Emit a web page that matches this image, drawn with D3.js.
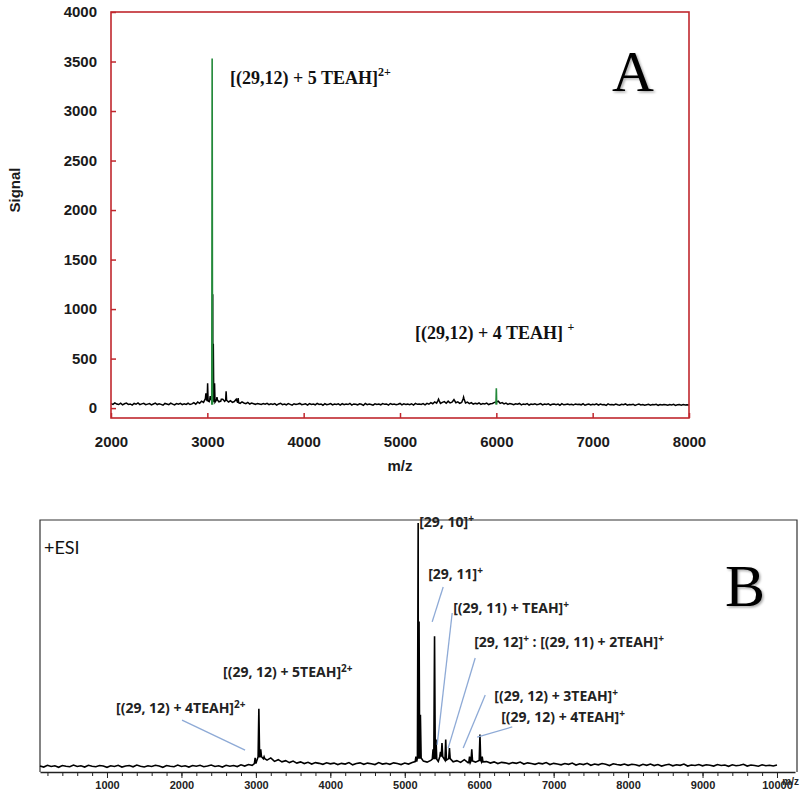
<!DOCTYPE html>
<html><head><meta charset="utf-8">
<script src="https://cdn.jsdelivr.net/npm/d3@7"></script>
<style>
html,body{margin:0;padding:0;background:#fff;}
svg{display:block;}
</style></head><body>
<svg id="chart" width="800" height="796"></svg>
<script>
// ---------------- Panel A data ----------------
const startA = 2000, stepA = 20;
const noiseA = [
45,38,52,41,36,49,33,44,50,37,42,31,47,39,53,35,43,48,34,40,
46,32,41,50,36,44,38,29,47,42,35,51,40,33,45,39,48,34,43,37,
49,36,42,55,40,61,48,70,58,95,72,66,88,75,60,82,64,71,90,68,
80,62,74,58,66,90,55,48,63,52,45,57,41,50,44,38,47,42,36,45,
39,48,34,43,37,46,31,42,49,35,40,33,45,38,30,44,36,41,47,34,
38,43,31,46,36,40,33,48,37,42,29,44,35,39,46,32,41,37,43,30,
45,34,40,36,47,31,42,38,33,44,39,28,46,35,41,37,30,43,36,40,
33,45,38,42,30,46,36,41,34,39,47,32,43,37,40,35,44,31,48,38,
42,36,45,33,48,39,55,44,62,50,78,47,58,66,49,70,52,60,85,54,
63,48,57,92,51,60,45,55,40,49,43,52,38,46,41,50,36,44,47,58,
62,70,48,55,42,50,38,46,41,35,44,39,47,33,42,37,45,31,40,36,
43,34,39,46,32,41,36,44,30,38,42,35,40,29,45,33,37,41,34,39,
31,42,36,39,33,44,29,37,41,32,38,35,43,30,40,34,36,28,42,33,
37,31,40,34,29,38,35,42,30,36,33,39,27,35,41,32,37,29,34,38,
30,36,33,39,28,35,31,37,34,29,36,32,38,27,33,35,30,36,31,34,
32];
const peaksA_mz = [2985, 3003, 3030, 3056, 3062, 3075, 3100, 3150, 3195, 3320, 5400, 5660];
const peaksA_h  = [150,  250,  120,  1150, 650,  250,  110,  90,   170,  100,  90,   110];
const greenA_mz = [3050, 6000];
const greenA_h  = [3530, 200];
const ticksAx = [2000, 3000, 4000, 5000, 6000, 7000, 8000];
const ticksAy = [0, 500, 1000, 1500, 2000, 2500, 3000, 3500, 4000];
const annA_text = ["[(29,12) + 5 TEAH]", "[(29,12) + 4 TEAH] "];
const annA_sup  = ["2+", "+"];
const annA_mz   = [3235, 5156];
const annA_sig  = [3270, 699];

// ---------------- Panel B data ----------------
const startB = 100, stepB = 50;
const noiseB = [
1.2,0.8,1.5,1.0,1.3,0.7,1.4,1.1,0.9,1.6,1.0,1.3,0.8,1.5,1.1,0.9,1.4,1.2,0.7,1.3,
1.0,1.5,0.8,1.2,1.4,0.9,1.6,1.1,0.8,1.3,1.0,1.5,1.2,0.7,1.4,1.1,0.9,1.6,1.0,1.3,
0.8,1.4,1.1,1.5,0.9,1.2,1.6,1.0,1.3,0.8,1.5,1.1,1.4,1.0,1.7,1.2,1.8,1.5,2.2,5.0,
4.2,3.6,4.5,3.1,3.8,2.9,3.4,2.6,3.2,2.4,2.9,2.2,2.7,2.0,2.6,2.3,1.9,2.5,2.1,2.4,
1.8,2.3,2.0,2.6,1.7,2.2,2.5,1.9,2.4,2.1,1.8,2.6,2.0,2.3,1.9,2.5,2.2,1.8,2.4,2.0,
2.6,3.0,4.5,3.2,2.8,3.5,4.0,3.1,5.0,3.6,4.2,2.9,3.4,2.7,3.8,2.6,3.3,2.8,3.5,2.9,
3.0,2.4,2.9,2.2,2.7,2.5,2.1,2.6,2.3,2.8,2.0,2.5,2.2,1.9,2.4,2.1,2.6,1.8,2.3,2.0,
1.7,2.2,1.9,2.4,1.6,2.1,1.8,2.3,1.5,2.0,1.7,2.2,1.9,1.4,2.1,1.8,1.6,2.0,1.5,1.9,
1.7,1.3,1.9,1.5,2.0,1.4,1.8,1.2,1.6,1.9,1.3,1.7,1.5,2.0,1.2,1.6,1.4,1.8,1.3,1.7,
1.5,1.2,1.8,1.4,1.6,1.1,1.7,1.3,1.5,1.9,1.2,1.6,1.4,1.1,1.7,1.3,1.5,1.2,1.6];
const peaksB_mz = [2990, 3040, 3065, 3110, 5150, 5180, 5192, 5210, 5380, 5400, 5420, 5480, 5500, 5550, 5600, 5870, 5900, 6010, 6040];
const peaksB_h  = [4.5,  24.5, 8,    5,    5,    100,  60,   22,   8,    54,   12,   7,    10.6, 12,   8.5,  5,    8,    14,   5];
const ticksBmajor = [1000, 2000, 3000, 4000, 5000, 6000, 7000, 8000, 9000, 10000];
const annB_text = ["[29, 10]", "[29, 11]", "[(29, 11) + TEAH]", "[29, 12]", "[(29, 12) + 3TEAH]", "[(29, 12) + 4TEAH]", "[(29, 12) + 5TEAH]", "[(29, 12) + 4TEAH]"];
const annB_sup  = ["+", "+", "+", "+", "+", "+", "2+", "2+"];
const annB_tail = ["", "", "", " :  [(29, 11) + 2TEAH]", "", "", "", ""];
const annB_tailSup = ["", "", "", "+", "", "", "", ""];
const annB_mz   = [5194, 5315, 5651, 5933, 6202, 6296, 2559, 1121];
const annB_int  = [98.4, 77.2, 63.4, 49.6, 27.6, 19.1, 37.4, 22.8];
// leader lines: from (mz1,int1) to (mz2,int2)
const leadB_mz1  = [5516, 5637, 5946, 6081, 6444, 2008];
const leadB_int1 = [74.0, 63.4, 45.1, 30.1, 17.1, 19.9];
const leadB_mz2  = [5368, 5435, 5583, 5785, 5973, 2855];
const leadB_int2 = [59.8, 9.8,  8.5,  8.5,  13.0, 7.7];

// ---------------- helpers ----------------
function buildTrace(start, step, noise, pmz, ph, halfW){
  let pts = noise.map((v,i)=>[start+i*step, v]);
  pts = pts.filter(p => !pmz.some(m => Math.abs(p[0]-m) <= halfW));
  pmz.forEach((m,i)=>{
    const idx = Math.min(noise.length-1, Math.max(0, Math.round((m-start)/step)));
    const b = noise[idx];
    pts.push([m-halfW,b],[m,ph[i]],[m+halfW,b]);
  });
  return pts.sort((a,b)=>a[0]-b[0]);
}

const svg = d3.select("#chart");
const defs = svg.append("defs");
const f = defs.append("filter").attr("id","shadow").attr("x","-20%").attr("y","-20%").attr("width","150%").attr("height","150%");
f.append("feDropShadow").attr("dx",1.5).attr("dy",1.5).attr("stdDeviation",1.2).attr("flood-color","#000").attr("flood-opacity",0.35);

// ================= PANEL A =================
const RED = "#c0272d";
const xA = d3.scaleLinear().domain([2000,8000]).range([111,689]);
const yA = d3.scaleLinear().domain([-100,4000]).range([418,12]);
const gA = svg.append("g");

const axisFont = "'Liberation Sans', Arial, sans-serif";
const gxA = gA.append("g").attr("transform","translate(0,418)")
  .call(d3.axisBottom(xA).tickValues(ticksAx).tickSizeInner(-5).tickSizeOuter(0).tickPadding(18).tickFormat(d3.format("d")));
gxA.select(".domain").remove();
gxA.selectAll(".tick line").attr("stroke",RED).attr("stroke-width",1.5);
gxA.selectAll(".tick text").attr("font-family",axisFont).attr("font-weight","bold").attr("font-size",15).attr("fill","#1a1a1a");

const gyA = gA.append("g").attr("transform","translate(111,0)")
  .call(d3.axisLeft(yA).tickValues(ticksAy).tickSizeInner(-5).tickSizeOuter(0).tickPadding(14).tickFormat(d3.format("d")));
gyA.select(".domain").remove();
gyA.selectAll(".tick line").attr("stroke",RED).attr("stroke-width",1.5);
gyA.selectAll(".tick text").attr("font-family",axisFont).attr("font-weight","bold").attr("font-size",15).attr("fill","#1a1a1a");

gA.append("text").attr("transform","translate(20,190) rotate(-90)").attr("text-anchor","middle")
  .attr("font-family",axisFont).attr("font-weight","bold").attr("font-size",15).attr("fill","#1a1a1a").text("Signal");
gA.append("text").attr("x",400).attr("y",471).attr("text-anchor","middle")
  .attr("font-family",axisFont).attr("font-weight","bold").attr("font-size",15).attr("fill","#1a1a1a").text("m/z");

const lineA = d3.line().x(d=>xA(d[0])).y(d=>yA(d[1]));
const traceA = buildTrace(startA, stepA, noiseA, peaksA_mz, peaksA_h, 5);
gA.append("path").datum(traceA).attr("d",lineA).attr("fill","none").attr("stroke","#000").attr("stroke-width",1.5);

greenA_mz.forEach((m,i)=>{
  gA.append("path").datum([[m-4,35],[m,greenA_h[i]],[m+4,35]]).attr("d",lineA)
    .attr("fill","none").attr("stroke","#23893a").attr("stroke-width",1.6);
});

gA.append("rect").attr("x",111).attr("y",12).attr("width",578).attr("height",406)
  .attr("fill","none").attr("stroke",RED).attr("stroke-width",1.6);

const serif = "'Liberation Serif','Times New Roman',serif";
annA_text.forEach((t,i)=>{
  const tx = gA.append("text").attr("x",xA(annA_mz[i])).attr("y",yA(annA_sig[i]))
    .attr("font-family",serif).attr("font-weight","bold").attr("font-size",18).attr("fill","#111");
  tx.append("tspan").text(t);
  tx.append("tspan").attr("font-size",12).attr("dy",-8).text(annA_sup[i]);
});
gA.append("text").attr("x",633).attr("y",91).attr("text-anchor","middle")
  .attr("font-family",serif).attr("font-size",58).attr("fill","#000").attr("filter","url(#shadow)").text("A");

// ================= PANEL B =================
const xB = d3.scaleLinear().domain([100,10242]).range([40,795]);
const yB = d3.scaleLinear().domain([0,100]).range([769,523]);
const gB = svg.append("g");

gB.append("path").attr("d","M40,772V520H797V772").attr("fill","none").attr("stroke","#333").attr("stroke-width",1.2);

const sans = "'Open Sans', Lato, Arial, sans-serif";
gB.append("text").attr("x",44).attr("y",554).attr("font-family","Lato, 'Open Sans', sans-serif").attr("font-size",18).attr("fill","#111").text("+ESI");

const lineB = d3.line().x(d=>xB(d[0])).y(d=>yB(d[1]));
const traceB = buildTrace(startB, stepB, noiseB, peaksB_mz, peaksB_h, 10);
gB.append("path").datum(traceB).attr("d",lineB).attr("fill","none").attr("stroke","#000").attr("stroke-width",1.6);

// axis B
const minorB = d3.range(200, 10001, 200);
const gxB = gB.append("g").attr("transform","translate(0,772)");
gxB.call(d3.axisBottom(xB).tickValues(minorB).tickSizeInner(4).tickSizeOuter(0).tickFormat(""));
gxB.select(".domain").attr("stroke","#222").attr("stroke-width",1.3);
gxB.selectAll(".tick line").attr("stroke","#222");
const gxB2 = gB.append("g").attr("transform","translate(0,772)");
gxB2.call(d3.axisBottom(xB).tickValues(ticksBmajor).tickSizeInner(6).tickSizeOuter(0).tickPadding(3).tickFormat(d3.format("d")));
gxB2.select(".domain").remove();
gxB2.selectAll(".tick line").attr("stroke","#222");
gxB2.selectAll(".tick text").attr("font-family","'Liberation Sans Narrow','Arial Narrow',Arial,sans-serif").attr("font-weight","bold").attr("font-size",11).attr("fill","#222");
gB.append("text").attr("x",799).attr("y",785).attr("text-anchor","end")
  .attr("font-family","'Liberation Sans Narrow','Arial Narrow',Arial,sans-serif").attr("font-weight","bold").attr("font-size",10).attr("fill","#222").text("m/z");

// leader lines
leadB_mz1.forEach((m,i)=>{
  gB.append("line").attr("x1",xB(m)).attr("y1",yB(leadB_int1[i])).attr("x2",xB(leadB_mz2[i])).attr("y2",yB(leadB_int2[i]))
    .attr("stroke","#8eaad6").attr("stroke-width",1.3);
});

annB_text.forEach((t,i)=>{
  const tx = gB.append("text").attr("x",xB(annB_mz[i])).attr("y",yB(annB_int[i]))
    .attr("font-family",sans).attr("font-weight","bold").attr("font-size",14).attr("fill","#222");
  tx.append("tspan").text(t);
  tx.append("tspan").attr("font-size",10).attr("dy",-5).text(annB_sup[i]);
  if (annB_tail[i]) {
    tx.append("tspan").attr("dy",5).text(annB_tail[i]);
    tx.append("tspan").attr("font-size",10).attr("dy",-5).text(annB_tailSup[i]);
  }
});

gB.append("text").attr("x",745).attr("y",606).attr("text-anchor","middle")
  .attr("font-family",serif).attr("font-size",60).attr("fill","#000").attr("filter","url(#shadow)").text("B");
</script>
</body></html>
